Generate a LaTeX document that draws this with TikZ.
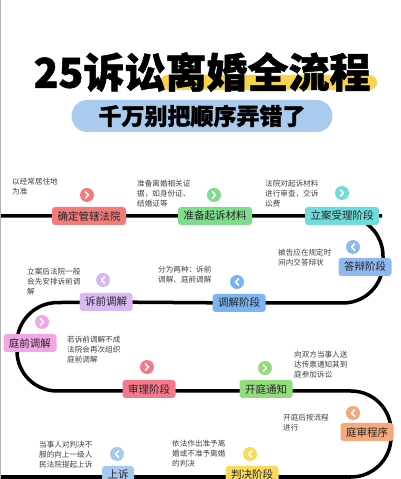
\documentclass[tikz,border=0pt]{standalone}
\usepackage{fontspec}
\setmainfont{Noto Sans CJK SC}
\newfontfamily\heavyfont{Noto Sans CJK SC}[BoldFeatures={FakeBold=1.2}]
\usepackage{xcolor}
\usepackage{tikz}
\usetikzlibrary{backgrounds}

\definecolor{hiYellow}{HTML}{F9D34A}
\definecolor{pillBlue}{HTML}{A9CBEE}
\definecolor{cRed}{HTML}{F27B7B}
\definecolor{cGreen}{HTML}{80DC8C}
\definecolor{cCyan}{HTML}{70DCDA}
\definecolor{cBlue}{HTML}{8DB8F0}
\definecolor{cBlueB}{HTML}{7AB4F2}
\definecolor{cLilac}{HTML}{D8B8F2}
\definecolor{cPink}{HTML}{F2A6E6}
\definecolor{cRose}{HTML}{F47A8A}
\definecolor{cLime}{HTML}{92DC7C}
\definecolor{cOrange}{HTML}{F6A878}
\definecolor{cGold}{HTML}{F8DA5C}
\definecolor{cSky}{HTML}{A8C8F0}

\begin{document}
\begin{tikzpicture}[x=1pt,y=1pt,
  every node/.style={font=\fontsize{10.5}{12}\selectfont},
  stage/.style={rounded corners=3pt,inner xsep=5.5pt,inner ysep=0pt,minimum height=18pt,text=black!85},
  icon/.style={circle,minimum size=14pt,inner sep=0pt},
  note/.style={anchor=north west,align=left,inner sep=0pt,text=black!75,font=\fontsize{7.6}{9.8}\selectfont},
  track/.style={line width=3.5pt,rounded corners=40pt},
  chev/.style={white,line width=1.6pt,line cap=round,line join=round}
]
\useasboundingbox (0,0) rectangle (400,479);
\draw[black!30,line width=1pt] (0.5,0) -- (0.5,479);

% title
\fill[hiYellow,rounded corners=7.5pt] (160,389) rectangle (377,404);
\node[font=\heavyfont\bfseries\fontsize{41}{44}\selectfont] (title) at (202,407) {25诉讼离婚全流程};
\node[fill=pillBlue,rounded corners=16pt,minimum width=261pt,minimum height=32pt,
      font=\heavyfont\bfseries\fontsize{23}{25}\selectfont] (sub) at (202,363) {千万别把顺序弄错了};

% stages
\node[stage,fill=cRed] (n1) at (89,263) {确定管辖法院};
\node[stage,fill=cGreen] (n2) at (215,263) {准备起诉材料};
\node[stage,fill=cCyan] (n3) at (342,263) {立案受理阶段};
\node[stage,fill=cBlue] (n4) at (365,212) {答辩阶段};
\node[stage,fill=cBlueB] (n5) at (239,176) {调解阶段};
\node[stage,fill=cLilac] (n6) at (106,177) {诉前调解};
\node[stage,fill=cPink] (n7) at (30,136) {庭前调解};
\node[stage,fill=cRose] (n8) at (149,90) {审理阶段};
\node[stage,fill=cLime] (n9) at (266,90) {开庭通知};
\node[stage,fill=cOrange] (n10) at (367,47) {庭审程序};
\node[stage,fill=cGold] (n11) at (252,4) {判决阶段};
\node[stage,fill=cSky] (n12) at (118,4) {上诉};

% icons
\node[icon,fill=cRed] (i1) at (87,284) {};
\node[icon,fill=cGreen] (i2) at (214,284) {};
\node[icon,fill=cCyan] (i3) at (342,286) {};
\node[icon,fill=cBlue] (i4) at (353,232) {};
\node[icon,fill=cBlueB] (i5) at (237,197) {};
\node[icon,fill=cLilac] (i6) at (103,199) {};
\node[icon,fill=cPink] (i7) at (42,157) {};
\node[icon,fill=cRose] (i8) at (147,112) {};
\node[icon,fill=cLime] (i9) at (265,111) {};
\node[icon,fill=cOrange] (i10) at (353,66) {};
\node[icon,fill=cGold] (i11) at (250,25) {};
\node[icon,fill=cSky] (i12) at (117,25) {};
\foreach \i/\d in {i1/1,i2/1,i3/1,i4/-1,i5/-1,i6/-1,i7/1,i8/1,i9/1,i10/-1,i11/-1,i12/-1}
  \draw[chev] ([shift={(-1.6*\d,3.2)}]\i.center) -- ++(3.2*\d,-3.2) -- ++(-3.2*\d,-3.2);

% notes
\node[note] (t1) at (12,301) {以经常居住地\\为准};
\node[note] (t2) at (137,299) {准备离婚相关证\\据，如身份证、\\结婚证等};
\node[note] (t3) at (265,299) {法院对起诉材料\\进行审查，交诉\\讼费};
\node[note] (t4) at (278,230) {被告应在规定时\\间内交答辩状};
\node[note] (t5) at (158,213) {分为两种：诉前\\调解、庭前调解};
\node[note] (t6) at (27,211) {立案后法院一般\\会先安排诉前调\\解};
\node[note] (t7) at (67,143) {若诉前调解不成\\法院会再次组织\\庭前调解};
\node[note] (t8) at (294,128) {向双方当事人送\\达传票通知其到\\庭参加诉讼};
\node[note] (t9) at (283,65) {开庭后按流程\\进行};
\node[note] (t10) at (172,39) {依法作出准予离\\婚或不准予离婚\\的判决};
\node[note] (t11) at (39,38) {当事人对判决不\\服的向上一级人\\民法院提起上诉};

% track
\coordinate (start) at (0,263);
\coordinate (stop) at (0,2);
\begin{scope}[on background layer]
\draw[track] (start) -- (n1.center) -- (n2.center) -- (n3.center) -- (383,263) -- (383,176)
  -- (n5.center) -- (n6.center) -- (17,176) -- (17,88) -- (n8.center |- 0,88) -- (n9.center |- 0,88)
  -- (391,88) -- (391,2) -- (n11.center |- 0,2) -- (n12.center |- 0,2) -- (stop);
\end{scope}
\end{tikzpicture}
\end{document}
